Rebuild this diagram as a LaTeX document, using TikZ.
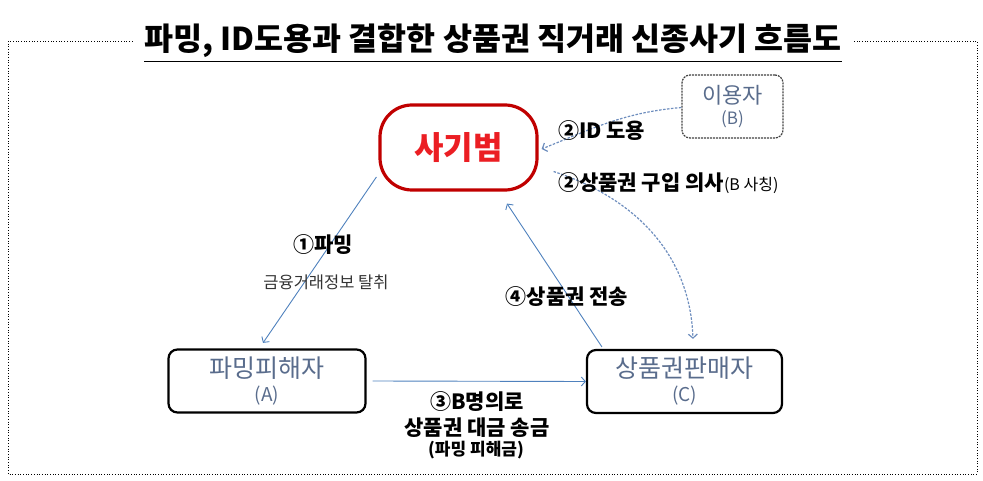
\documentclass[tikz,border=0pt]{standalone}
\usepackage{fontspec}
\setmainfont{Noto Sans CJK KR}
\usetikzlibrary{arrows.meta}
\definecolor{linkblue}{RGB}{79,129,189}
\definecolor{dashblue}{RGB}{110,142,190}
\definecolor{boxtext}{RGB}{89,108,140}
\definecolor{frauddark}{RGB}{192,0,0}
\definecolor{fraudred}{RGB}{235,30,35}

\begin{document}
\begin{tikzpicture}[x=1pt, y=1pt,
        party/.style={draw, line width=2.2pt, rounded corners=9pt, align=center,
                text=boxtext, inner sep=0pt, font=\fontsize{25}{24}\selectfont},
        flow/.style={draw=linkblue, line width=0.9pt, -{Straight Barb[length=4pt, width=9pt]}},
        dflow/.style={draw=dashblue, line width=1.2pt, dash pattern=on 2.5pt off 1.5pt,
                -{Straight Barb[length=4pt, width=9pt]}},
        steplabel/.style={font=\fontsize{21}{23}\bfseries\selectfont, inner sep=0pt}]
        \useasboundingbox (0, 0) rectangle (983, 480);

        % title and frame
        \node[font=\fontsize{31.5}{33}\bfseries\selectfont, inner sep=0pt] (title) at (493, 439)
                {파밍, ID도용과 결합한 상품권 직거래 신종사기 흐름도};
        \draw[line width=1.2pt] ([yshift=-3pt]title.south west) -- ([yshift=-3pt]title.south east);
        \draw[dotted, line width=0.7pt] ([xshift=-12pt]title.west) -- (8, 439) -- (8, 6)
                -- (977, 6) -- (977, 439) -- ([xshift=12pt]title.east);

        % parties
        \node[draw=frauddark, line width=3.2pt, rounded corners=32pt, minimum width=157pt,
                minimum height=85pt, text=fraudred, font=\fontsize{32}{34}\bfseries\selectfont]
                (fraudster) at (458.5, 332.5) {사기범};
        \node[party, line width=1.2pt, draw=black!75, dash pattern=on 2pt off 1pt, rounded corners=8pt,
                minimum width=101pt, minimum height=63pt, font=\fontsize{22}{21}\selectfont]
                (userB) at (732.5, 373.5) {이용자\\{\fontsize{17}{18}\selectfont (B)}};
        \node[party, minimum width=197pt, minimum height=63pt] (victim) at (267, 99)
                {파밍피해자\\{\fontsize{19}{20}\selectfont (A)}};
        \node[party, minimum width=195pt, minimum height=63pt] (seller) at (684.5, 98.5)
                {상품권판매자\\{\fontsize{19}{20}\selectfont (C)}};

        % connectors
        \draw[flow] ([shift={(-2, -29.5)}]fraudster.west) -- ([shift={(-4, 5.5)}]victim.north);
        \draw[dflow] ([yshift=-1pt]userB.west) to[out=185, in=22] ([shift={(3, -1.5)}]fraudster.east);
        \draw[dflow] ([shift={(15, -24)}]fraudster.east) to[out=-18, in=92] ([shift={(8.5, 10)}]seller.north);
        \draw[flow] ([xshift=6pt]victim.east) -- (seller.west);
        \draw[flow] ([shift={(16, 2)}]seller.north west) -- ([shift={(48.5, -12)}]fraudster.south);

        % labels
        \node[steplabel, anchor=west] (idlabel) at (558, 349) {②ID 도용};
        \node[steplabel, anchor=west] (buylabel) at (558, 297)
                {②상품권 구입 의사{\fontsize{16}{17}\mdseries\selectfont(B 사칭)}};
        \node[steplabel] (pharmlabel) at (323, 235) {①파밍};
        \node[font=\fontsize{16.5}{18}\selectfont, text=black!80, inner sep=0pt] (stealnote) at (326, 198)
                {금융거래정보 탈취};
        \node[steplabel] (sendlabel) at (567, 183) {④상품권 전송};
        \node[steplabel] (paylabel) at (477, 78) {③B명의로};
        \node[steplabel] (paynote) at (477, 52) {상품권 대금 송금};
        \node[font=\fontsize{17}{18}\bfseries\selectfont, inner sep=0pt] (lossnote) at (476, 30)
                {(파밍 피해금)};
\end{tikzpicture}
\end{document}
